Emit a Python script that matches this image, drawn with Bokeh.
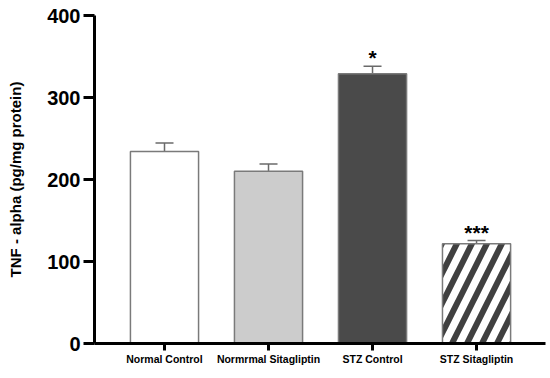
from bokeh.plotting import figure
from bokeh.models import Range1d, FixedTicker, Whisker, ColumnDataSource, TeeHead
from bokeh.core.properties import value
from bokeh.embed import file_html
from bokeh.resources import INLINE

categories = ["Normal Control", "Normrmal Sitagliptin", "STZ Control", "STZ Sitagliptin"]
means = [234, 210, 329, 121.5]
errors = [10.5, 9, 9, 4]
stars = ["", "", "*", "***"]
fills = ["#ffffff", "#cccccc", "#4a4a4a", "#ffffff"]
hatches = ["blank", "blank", "blank", "right_diagonal_line"]
y_ticks = [0, 100, 200, 300, 400]

xs = list(range(len(categories)))
uppers = [m + e for m, e in zip(means, errors)]
src = ColumnDataSource(dict(x=xs, top=means, upper=uppers, fill=fills,
                            hatch=hatches, star=stars))

FONT = "Liberation Sans"
p = figure(width=548, height=374, output_backend="svg", toolbar_location=None,
           x_range=Range1d(-0.673, 3.663), y_range=Range1d(0, 400),
           min_border_left=94, min_border_top=15, min_border_bottom=31,
           min_border_right=3)
p.outline_line_color = None
p.grid.grid_line_color = None

p.vbar(x="x", top="top", width=0.655, source=src, fill_color="fill",
       line_color="#7a7a7a", line_width=1.5, hatch_pattern="hatch",
       hatch_color="#404040", hatch_scale=30, hatch_weight=6)

w = Whisker(base="x", upper="upper", lower="top", source=src,
            line_color="#6a6a6a", line_width=1.5,
            upper_head=TeeHead(size=18, line_color="#6a6a6a", line_width=1.5),
            lower_head=None)
p.add_layout(w)

p.text(x="x", y="upper", text="star", source=src, text_align="center",
       text_baseline="bottom", y_offset=3, text_font=value(FONT),
       text_font_style="bold", text_font_size="21px", text_color="#000000")

p.yaxis.ticker = FixedTicker(ticks=y_ticks)
p.xaxis.ticker = FixedTicker(ticks=xs)
p.xaxis.major_label_overrides = {i: c for i, c in enumerate(categories)}

for ax in (p.xaxis[0], p.yaxis[0]):
    ax.axis_line_width = 3
    ax.axis_line_color = "#000000"
    ax.major_tick_line_width = 3
    ax.major_tick_line_color = "#000000"
    ax.minor_tick_line_color = None
    ax.major_tick_in = 0
    ax.major_label_text_font = FONT
    ax.major_label_text_font_style = "bold"
    ax.major_label_text_color = "#000000"

p.yaxis.major_tick_out = 11
p.yaxis.major_label_text_font_size = "20px"
p.yaxis.major_label_standoff = 3
p.yaxis.axis_label = "TNF - alpha (pg/mg protein)"
p.yaxis.axis_label_text_font = FONT
p.yaxis.axis_label_text_font_style = "bold"
p.yaxis.axis_label_text_font_size = "15px"
p.yaxis.axis_label_text_color = "#000000"
p.yaxis.axis_label_standoff = 20

p.xaxis.major_tick_out = 7
p.xaxis.major_label_text_font_size = "10.5px"
p.xaxis.major_label_standoff = 2

open("out.html", "w").write(file_html(p, INLINE))
